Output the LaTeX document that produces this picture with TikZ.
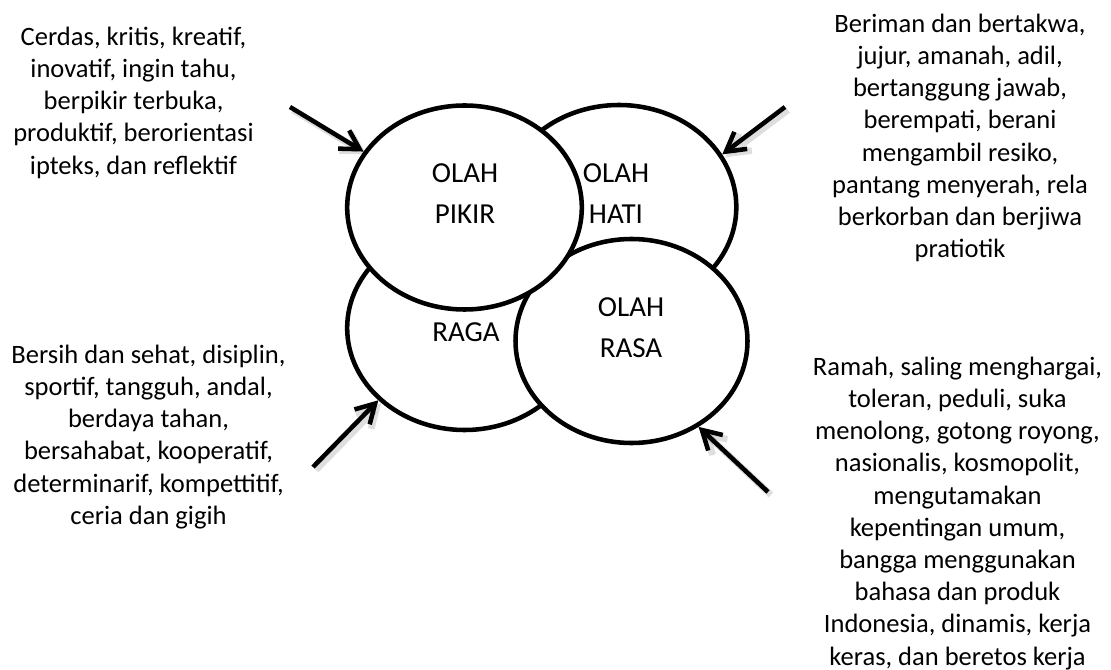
\documentclass[tikz,border=0pt]{standalone}
\usepackage{fontspec}
\setmainfont{Carlito}
\usetikzlibrary{arrows.meta,shapes.geometric}
\newcommand\sidesize{\fontsize{19.9pt}{24.15pt}\selectfont}
\newcommand\circsize{\fontsize{21.75pt}{31pt}\selectfont}
\newcommand\sidestrut{\rule{0pt}{18pt}}
\newcommand\circstrut{\rule{0pt}{22pt}}
\begin{document}
\begin{tikzpicture}[x=0.75pt,y=-0.75pt,
  olahblob/.style={ellipse, draw=black, fill=white, line width=3.4pt,
    minimum width=176pt, minimum height=153pt, inner sep=0pt},
  sidetext/.style={font=\sidesize, align=center, inner sep=0pt, anchor=north},
  circtext/.style={font=\circsize, align=center, inner sep=0pt, anchor=north},
  olahptr/.style={line width=3.4pt, -{Straight Barb[length=14pt,width=16pt]}},
  olahshade/.style={olahptr, draw=black, opacity=0.13, line width=5pt,
    transform canvas={shift={(2.2pt,-2.2pt)}}}]
  % canvas
  \useasboundingbox[fill=white] (0,0) rectangle (1111,670);

  % the four overlapping domains
  \node[olahblob] (raga)  at (464.5,328) {};
  \node[olahblob] (hati)  at (619,207) {};
  \node[olahblob, minimum width=174pt] (rasa) at (631.5,341) {};
  \node[olahblob] (pikir) at (464.5,207.5) {};

  % domain labels
  \node[circtext] (lpikir) at (465,152.7) {\circstrut OLAH\\PIKIR};
  \node[circtext] (lhati)  at (616,152.7) {\circstrut OLAH\\HATI};
  \node[circtext] (lraga)  at (466,312.4) {\circstrut RAGA};
  \node[circtext] (lrasa)  at (631,286.7) {\circstrut OLAH\\RASA};

  % descriptions
  \node[sidetext] (dpikir) at (133.5,21) {\sidestrut Cerdas, kritis, kreatif,\\
    inovatif, ingin tahu,\\ berpikir terbuka,\\ produktif, berorientasi\\
    ipteks, dan reflektif};
  \node[sidetext] (dhati) at (960,8) {\sidestrut Beriman dan bertakwa,\\
    jujur, amanah, adil,\\ bertanggung jawab,\\ berempati, berani\\
    mengambil resiko,\\ pantang menyerah, rela\\ berkorban dan berjiwa\\ pratiotik};
  \node[sidetext] (draga) at (148.5,339) {\sidestrut Bersih dan sehat, disiplin,\\
    sportif, tangguh, andal,\\ berdaya tahan,\\ bersahabat, kooperatif,\\
    determinarif, kompettitif,\\ ceria dan gigih};
  \node[sidetext] (drasa) at (957.5,351) {\sidestrut Ramah, saling menghargai,\\
    toleran, peduli, suka\\ menolong, gotong royong,\\ nasionalis, kosmopolit,\\
    mengutamakan\\ kepentingan umum,\\ bangga menggunakan\\ bahasa dan produk\\
    Indonesia, dinamis, kerja\\ keras, dan beretos kerja};

  % arrow tails
  \coordinate (tpikir) at (290,107);
  \coordinate (thati)  at (785,107);
  \coordinate (traga)  at (313,467);
  \coordinate (trasa)  at (768,492);

  % arrows with a soft shadow
  \foreach \s in {olahshade,olahptr}{
    \draw[\s] (tpikir) -- (pikir.151);
    \draw[\s] (thati)  -- (hati.27);
    \draw[\s] (traga)  -- (raga.220.5);
    \draw[\s] (trasa)  -- (rasa.308);
  }
\end{tikzpicture}
\end{document}
